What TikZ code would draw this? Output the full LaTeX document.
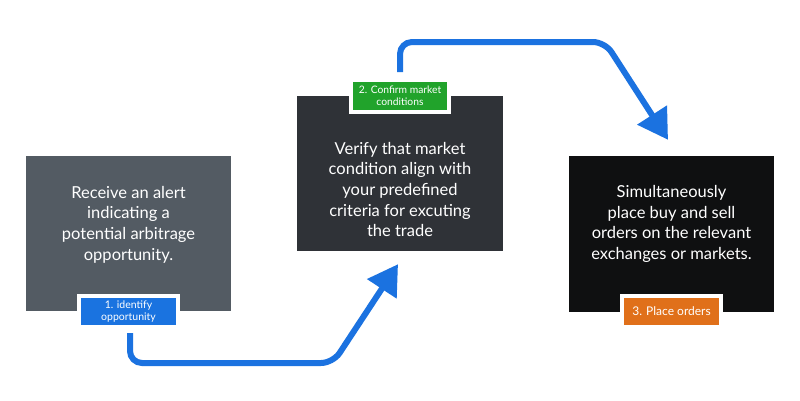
\documentclass[tikz,border=0pt]{standalone}
\usepackage{fontspec}
\setmainfont{Lato}
\usetikzlibrary{arrows.meta}
\definecolor{boxA}{HTML}{535B63}
\definecolor{boxB}{HTML}{2F3237}
\definecolor{boxC}{HTML}{0F1011}
\definecolor{flowblue}{HTML}{1B72E0}
\definecolor{tagblue}{HTML}{1A73E0}
\definecolor{taggreen}{HTML}{21A32B}
\definecolor{tagorange}{HTML}{E0701A}
\tikzset{
  card/.style={draw=none, minimum width=205pt, minimum height=155pt, inner sep=0pt},
  cardtext/.style={text=white, align=center, font=\fontsize{16.5pt}{20.7pt}\selectfont, inner sep=0pt},
  tag/.style={minimum width=99pt, minimum height=31pt, inner sep=0pt, text=white, align=center,
     draw=white, line width=4pt, outer sep=0pt},
  flow/.style={draw=flowblue, line width=6pt, rounded corners=12pt,
     -{Triangle[length=29.5pt,width=34pt]}}
}
\begin{document}
\begin{tikzpicture}[x=1pt,y=-1pt]
\useasboundingbox[fill=white] (0,0) rectangle (800,400);
% cards
\node[card, fill=boxA] (b1) at (128.5,233.5) {};
\node[card, fill=boxB, minimum width=206pt] (b2) at (400,173.5) {};
\node[card, fill=boxC, minimum height=156pt] (b3) at (671.5,234) {};
% texts
\node[cardtext] (t1) at (128.5,224.5) {Receive an alert\\indicating a\\potential arbitrage\\opportunity.};
\node[cardtext] (t2) at (400,189.5) {Verify that market\\condition align with\\your predefined\\criteria for excuting\\the trade};
\node[cardtext] (t3) at (671.5,224) {Simultaneously\\place buy and sell\\orders on the relevant\\exchanges or markets.};
% tags
\node[tag, fill=tagblue, font=\fontsize{10.5pt}{12pt}\selectfont] (l1) at (128.5,311.5) {1. identify\\opportunity};
\node[tag, fill=taggreen, minimum width=98pt, minimum height=32pt, font=\fontsize{10.3pt}{12pt}\selectfont] (l2) at (400,96) {2. Confirm market\\conditions};
\node[tag, fill=tagorange, font=\fontsize{12pt}{13pt}\selectfont] (l3) at (671.5,311.5) {3. Place orders};
% connectors
\coordinate (c1) at (130,363);
\coordinate (c2) at (333,363);
\coordinate (c3) at (400,42);
\coordinate (c4) at (605,42);
\draw[flow] ([xshift=1.5pt,yshift=-6pt]l1.south) -- (c1) -- (c2) -- ([xshift=-2pt,yshift=-13pt]b2.south);
\draw[flow] ([yshift=8pt]l2.north) -- (c3) -- (c4) -- ([xshift=-3.5pt,yshift=16pt]b3.north);
\end{tikzpicture}
\end{document}
